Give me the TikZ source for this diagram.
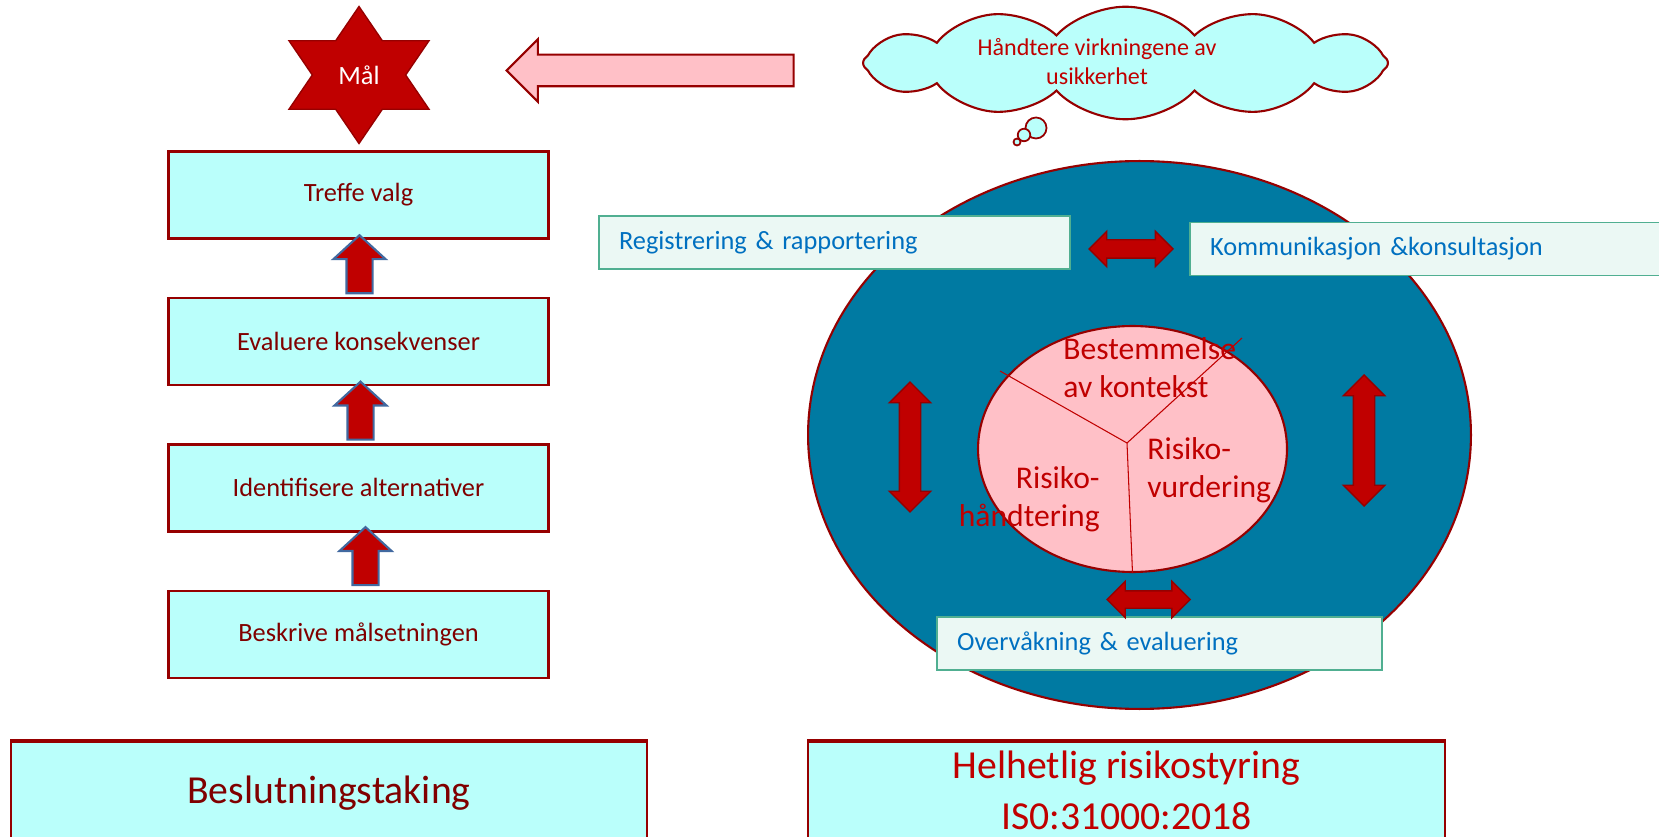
\documentclass[tikz,border=0pt]{standalone}
\usepackage{fontspec}
\setmainfont{Carlito}
\usetikzlibrary{positioning}
\usetikzlibrary{calc}
\usetikzlibrary{shapes.geometric}
\usetikzlibrary{shapes.arrows}
\usetikzlibrary{shapes.symbols}

\definecolor{boxfill}{RGB}{186,255,251}
\definecolor{boxline}{RGB}{150,0,0}
\definecolor{boxtext}{RGB}{128,0,0}
\definecolor{redtext}{RGB}{192,0,0}
\definecolor{pinkfill}{RGB}{255,192,199}
\definecolor{seablue}{RGB}{0,122,162}
\definecolor{notefill}{RGB}{235,248,244}
\definecolor{noteline}{RGB}{80,175,145}
\definecolor{notetext}{RGB}{0,112,192}
\definecolor{arrowline}{RGB}{65,105,160}

\tikzset{
	stepbox/.style = {draw = boxline, fill = boxfill, text = boxtext, line width = 1.4pt, minimum width = 7.6cm, minimum height = 1.74cm, inner sep = 0, font = \fontsize{15}{18}\selectfont},
	uparrow/.style = {single arrow, rotate = 90, draw = arrowline, fill = redtext, line width = 1.2pt, minimum height = 1.16cm, minimum width = 1.0cm, inner xsep = 0, inner ysep = 0.24cm, single arrow head extend = 0.26cm, single arrow tip angle = 95},
	twoway/.style = {double arrow, draw = boxline, fill = redtext, line width = 0.8pt, double arrow tip angle = 90, inner xsep = 0},
	notebox/.style = {draw = noteline, fill = notefill, text = notetext, line width = 0.9pt, minimum height = 1.06cm, inner xsep = 0.4cm, align = left, font = \fontsize{15}{18}\selectfont},
	circletext/.style = {text = redtext, inner sep = 0, font = \fontsize{18}{21.5}\selectfont},
	titlebox/.style = {draw = boxline, fill = boxfill, line width = 1pt, inner sep = 0, align = center, font = \fontsize{22.6}{29}\selectfont},
	bubble/.style = {circle, draw = boxline, fill = boxfill, line width = 1pt, inner sep = 0}
}

\begin{document}
\begin{tikzpicture}[x = 0.02cm, y = -0.02cm, node distance = 1.14cm]
	\useasboundingbox (0, 0) rectangle (1659, 837);

	\node [stepbox] (treffe) at (358.5, 195) {Treffe valg};
	\node [stepbox, below = of treffe] (evaluere) {Evaluere konsekvenser};
	\node [stepbox, below = of evaluere] (identifisere) {Identifisere alternativer};
	\node [stepbox, below = of identifisere] (beskrive) {Beskrive målsetningen};
	\node [uparrow] (up1) at ($(evaluere.north)!0.5!(treffe.south) + (1, 2)$) {};
	\node [uparrow] (up2) at ($(identifisere.north)!0.5!(evaluere.south) + (2, 2)$) {};
	\node [uparrow] (up3) at ($(beskrive.north)!0.5!(identifisere.south) + (7, 1)$) {};

	\node [star, star points = 6, star point ratio = 1.732, minimum size = 2.74cm, inner sep = 0, xscale = 1.18, fill = redtext, draw = boxline, line width = 0.8pt] (maal) at (359, 75) {};
	\node [text = white, font = \fontsize{15}{18}\selectfont] (maaltext) at (maal) {Mål};
	\node [single arrow, rotate = 180, draw = boxline, fill = pinkfill, line width = 1.2pt, minimum height = 5.74cm, minimum width = 1.21cm, inner xsep = 0, inner ysep = 0.295cm, single arrow head extend = 0.31cm, single arrow tip angle = 90] (pointer) at (658, 70.5) {};

	\node [cloud, cloud puffs = 12, cloud puff arc = 110, aspect = 5, draw = boxline, fill = boxfill, line width = 1.2pt, minimum width = 10.5cm, minimum height = 2.16cm, yscale = 0.8, align = center, font = \fontsize{14.5}{17.5}\selectfont] (worry) at (1125.5, 63) {\phantom{Håndtere virkningene av}\\\phantom{usikkerhet}};
	\node [text = redtext, align = center, font = \fontsize{13.7}{16.5}\selectfont] (worrytext) at (1097, 62) {Håndtere virkningene av\\usikkerhet};
	\node [bubble, minimum size = 0.42cm] (bubble1) at (1036, 128) {};
	\node [bubble, minimum size = 0.25cm] (bubble2) at (1024, 135) {};
	\node [bubble, minimum size = 0.14cm] (bubble3) at (1017, 142) {};

	\node [ellipse, draw = boxline, fill = seablue, line width = 1.2pt, minimum width = 13.26cm, minimum height = 10.96cm] (whole) at (1139.5, 435) {};
	\node [ellipse, draw = boxline, fill = pinkfill, line width = 1.2pt, minimum width = 6.18cm, minimum height = 4.92cm] (core) at (1132.5, 449) {};
	\coordinate (hub) at (1127, 443);
	\coordinate (cutleft) at (1000, 371);
	\coordinate (cutright) at (1242, 338);
	\draw [redtext, line width = 0.6pt] (hub) -- (cutleft);
	\draw [redtext, line width = 0.6pt] (hub) -- (cutright);
	\draw [redtext, line width = 0.6pt] (hub) -- (core.south);
	\node [circletext, anchor = west, align = left] (kontekst) at (1063, 368) {Bestemmelse\\av kontekst};
	\node [circletext, anchor = west, align = left] (vurdering) at (1147, 470) {Risiko-\\vurdering};
	\node [circletext, anchor = east, align = right] (handtering) at (1100, 499) {Risiko-\\håndtering};

	\node [notebox, minimum width = 9.42cm, text width = 8.62cm] (registrering) at (834.5, 242.5) {Registrering \& rapportering};
	\node [notebox, minimum width = 9.6cm, text width = 8.8cm] (kommunikasjon) at (1430, 249) {Kommunikasjon \&konsultasjon};
	\node [notebox, minimum width = 8.9cm, text width = 8.1cm] (overvakning) at (1159.5, 643.5) {Overvåkning \& evaluering};

	\node [twoway, minimum height = 1.68cm, minimum width = 0.68cm, inner ysep = 0.17cm, double arrow head extend = 0.17cm] (linktop) at (1131, 249) {};
	\node [twoway, minimum height = 1.66cm, minimum width = 0.7cm, inner ysep = 0.16cm, double arrow head extend = 0.19cm] (linkbottom) at (1148.5, 599.5) {};
	\node [twoway, rotate = 90, minimum height = 2.6cm, minimum width = 0.8cm, inner ysep = 0.2cm, double arrow head extend = 0.2cm] (linkleft) at (910, 447) {};
	\node [twoway, rotate = 90, minimum height = 2.62cm, minimum width = 0.8cm, inner ysep = 0.2cm, double arrow head extend = 0.2cm] (linkright) at (1364, 440.5) {};

	\node [titlebox, text = boxtext, minimum width = 12.72cm, minimum height = 2.06cm] (beslutning) at (329, 793.5) {Beslutningstaking};
	\node [titlebox, text = redtext, minimum width = 12.74cm, minimum height = 1.94cm] (helhetlig) at (1126.5, 790.5) {Helhetlig risikostyring\\IS0:31000:2018};
	\draw [boxline, line width = 2.4pt] (beslutning.north west) -- (beslutning.north east);
	\draw [boxline, line width = 2.4pt] (helhetlig.north west) -- (helhetlig.north east);
\end{tikzpicture}
\end{document}
